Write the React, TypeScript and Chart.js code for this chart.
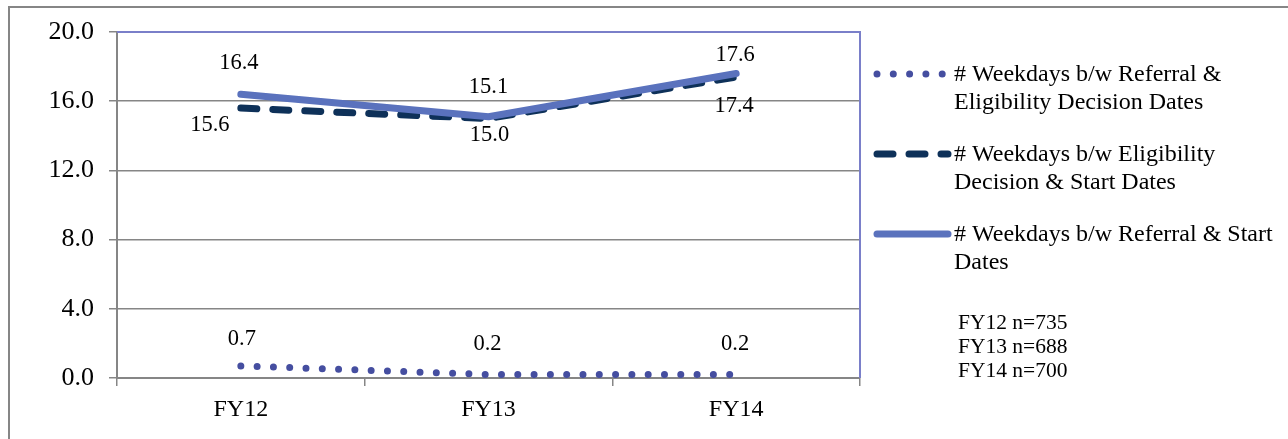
import { useEffect, useRef } from "react";
import { Chart, registerables } from "chart.js";

Chart.register(...registerables);

// Fiscal years on the x axis
const categories = ["FY12", "FY13", "FY14"];

// Average number of weekdays per interval
const referralToEligibility = [0.7, 0.2, 0.2];
const eligibilityToStart = [15.6, 15.0, 17.4];
const referralToStart = [16.4, 15.1, 17.6];

// Legend captions (two lines each)
const seriesNames = [
  ["# Weekdays b/w Referral &", "Eligibility Decision Dates"],
  ["# Weekdays b/w Eligibility", "Decision & Start Dates"],
  ["# Weekdays b/w Referral & Start", "Dates"],
];

// Sample size note
const sampleSizes = ["FY12 n=735", "FY13 n=688", "FY14 n=700"];

// Y axis range
const yMin = 0;
const yMax = 20;
const yStep = 4;

const FONT = "'Liberation Serif', 'Times New Roman', serif";
const GRAY = "#868686";
const FRAME = "#7a7fc9";

const seriesStyles = [
  { color: "#454ea0", width: 7, dash: [0, 16.3], cap: "round" as CanvasLineCap },
  { color: "#0e3159", width: 7, dash: [16, 16], cap: "round" as CanvasLineCap },
  { color: "#5a72bd", width: 7, dash: [] as number[], cap: "round" as CanvasLineCap },
];

// pixel nudges for each value label, relative to its point
const labelNudges = [
  [[1, -27], [-1, -30], [-1, -30]],
  [[-31, 17], [1, 17], [-2, 29]],
  [[-2, -31], [0, -30], [-1, -18]],
];

const framePlugin = {
  id: "plotFrame",
  beforeDatasetsDraw(chart: Chart) {
    const { ctx, chartArea } = chart;
    ctx.save();
    ctx.strokeStyle = FRAME;
    ctx.lineWidth = 2;
    ctx.beginPath();
    ctx.moveTo(chartArea.left, chartArea.top);
    ctx.lineTo(chartArea.right, chartArea.top);
    ctx.lineTo(chartArea.right, chartArea.bottom);
    ctx.stroke();
    ctx.restore();
  },
};

const valueLabelPlugin = {
  id: "valueLabels",
  afterDatasetsDraw(chart: Chart) {
    const { ctx } = chart;
    ctx.save();
    ctx.font = `22.5px ${FONT}`;
    ctx.fillStyle = "#000";
    ctx.textAlign = "center";
    ctx.textBaseline = "middle";
    chart.data.datasets.forEach((ds, i) => {
      const meta = chart.getDatasetMeta(i);
      meta.data.forEach((pt, j) => {
        const v = ds.data[j] as number;
        const [dx, dy] = labelNudges[i][j];
        ctx.fillText(v.toFixed(1), pt.x + dx, pt.y + dy);
      });
    });
    ctx.restore();
  },
};

const sideLegendPlugin = {
  id: "sideLegend",
  afterDraw(chart: Chart) {
    const { ctx } = chart;
    const sampleLeft = 867;
    const sampleRight = 938;
    const textX = 944;
    const rows = [66, 146, 226];
    ctx.save();
    rows.forEach((y, i) => {
      const s = seriesStyles[i];
      ctx.strokeStyle = s.color;
      ctx.lineWidth = s.width;
      ctx.lineCap = s.cap;
      ctx.setLineDash(s.dash);
      ctx.beginPath();
      ctx.moveTo(sampleLeft, y);
      ctx.lineTo(sampleRight, y);
      ctx.stroke();
      ctx.setLineDash([]);
      ctx.fillStyle = "#000";
      ctx.font = `24px ${FONT}`;
      ctx.textAlign = "left";
      ctx.textBaseline = "middle";
      seriesNames[i].forEach((line, k) => {
        ctx.fillText(line, textX, y + 1 + k * 27.5);
      });
    });
    ctx.font = `21.5px ${FONT}`;
    sampleSizes.forEach((t, k) => {
      ctx.fillText(t, 948, 315 + k * 24.4);
    });
    ctx.restore();
  },
};

export default function App() {
  const canvasRef = useRef<HTMLCanvasElement | null>(null);

  useEffect(() => {
    if (!canvasRef.current) return;
    const series = [referralToEligibility, eligibilityToStart, referralToStart];
    const chart = new Chart(canvasRef.current, {
      type: "line",
      data: {
        labels: categories,
        datasets: series.map((values, i) => ({
          label: seriesNames[i].join(" "),
          data: values,
          borderColor: seriesStyles[i].color,
          borderWidth: seriesStyles[i].width,
          borderDash: seriesStyles[i].dash,
          borderCapStyle: seriesStyles[i].cap,
          borderJoinStyle: "round" as CanvasLineJoin,
          pointRadius: 0,
          tension: 0,
          fill: false,
          order: 2 - i,
        })),
      },
      options: {
        responsive: false,
        animation: false,
        devicePixelRatio: 1,
        layout: { padding: { top: 24, right: 428, left: 0, bottom: 0 } },
        plugins: {
          legend: { display: false },
          tooltip: { enabled: false },
          title: { display: false },
        },
        scales: {
          x: {
            type: "category",
            offset: true,
            grid: {
              offset: true,
              drawOnChartArea: false,
              drawTicks: true,
              tickLength: 8,
              color: GRAY,
              lineWidth: 1.5,
            },
            border: { color: GRAY, width: 2 },
            ticks: {
              color: "#000",
              padding: 9,
              font: { family: FONT, size: 24 },
            },
            afterFit: (s: any) => {
              s.height = 61;
              s.paddingLeft = 0;
              s.paddingRight = 0;
            },
          },
          y: {
            min: yMin,
            max: yMax,
            ticks: {
              stepSize: yStep,
              color: "#000",
              padding: 15,
              font: { family: FONT, size: 26 },
              callback: (v: any) => Number(v).toFixed(1),
            },
            grid: {
              color: (c: any) => (c.tick && c.tick.value === yMax ? "rgba(0,0,0,0)" : GRAY),
              tickColor: GRAY,
              tickLength: 8,
              lineWidth: 1.5,
            },
            border: { color: GRAY, width: 2 },
            afterFit: (s: any) => {
              s.width = 107;
              s.paddingTop = 0;
              s.paddingBottom = 0;
            },
          },
        },
      },
      plugins: [framePlugin, valueLabelPlugin, sideLegendPlugin],
    });
    return () => chart.destroy();
  }, []);

  return (
    <div
      style={{
        position: "absolute",
        left: 8,
        top: 6,
        width: 1280,
        height: 433,
        boxSizing: "border-box",
        borderTop: `2px solid ${GRAY}`,
        borderLeft: `2px solid ${GRAY}`,
        background: "#fff",
      }}
    >
      <canvas ref={canvasRef} width={1278} height={431} style={{ display: "block" }} />
    </div>
  );
}
